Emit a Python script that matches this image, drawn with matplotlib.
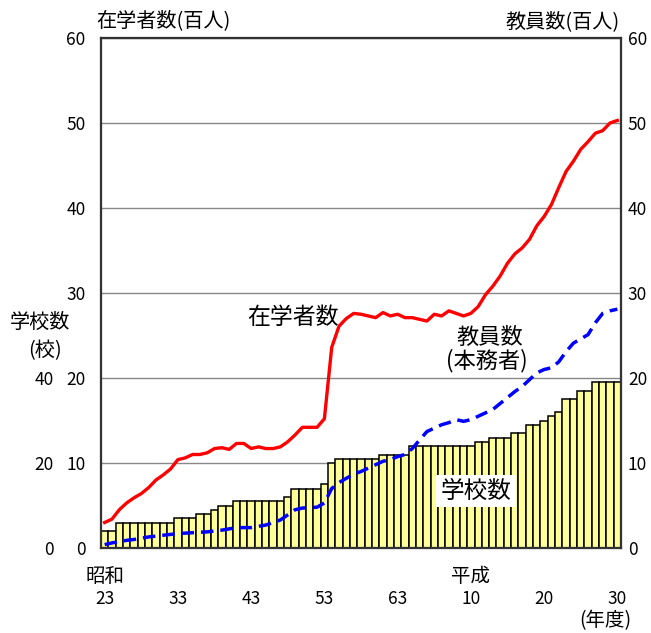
import matplotlib
matplotlib.use("Agg")
import matplotlib.pyplot as plt
from matplotlib.transforms import blended_transform_factory

plt.rcParams['font.family'] = ['Noto Sans CJK JP', 'DejaVu Sans']

years = list(range(1948, 2019))
schools = [4, 4] + [6] * 8 + [7] * 3 + [8] * 2 + [9] + [10] * 2 + [11] * 7 + [12] + [14] * 4 + [15] + [20] \
    + [21] * 6 + [22] * 4 + [24] * 9 + [25] * 2 + [26] * 3 + [27] * 2 + [29] * 2 + [30] + [31] + [32] \
    + [35] * 2 + [37] * 2 + [39] * 4
students = [3.0, 3.4, 4.5, 5.3, 5.9, 6.4, 7.1, 8.0, 8.6, 9.3,
            10.4, 10.6, 11.0, 11.0, 11.2, 11.7, 11.8, 11.6, 12.3, 12.3,
            11.7, 11.9, 11.7, 11.7, 11.9, 12.5, 13.3, 14.2, 14.2, 14.2,
            15.2, 23.6, 26.1, 27.0, 27.6, 27.5, 27.3, 27.1, 27.7, 27.3,
            27.5, 27.1, 27.1, 26.9, 26.7, 27.5, 27.3, 27.9, 27.6, 27.3,
            27.6, 28.4, 29.8, 30.8, 32.0, 33.5, 34.6, 35.3, 36.3, 37.9,
            39.0, 40.4, 42.4, 44.3, 45.5, 46.9, 47.8, 48.8, 49.1, 50.0,
            50.3]
teachers = [0.4, 0.6, 0.75, 0.9, 1.0, 1.15, 1.3, 1.4, 1.5, 1.6,
            1.7, 1.75, 1.8, 1.85, 1.9, 2.0, 2.1, 2.25, 2.4, 2.4,
            2.4, 2.55, 2.7, 3.0, 3.3, 3.9, 4.5, 4.7, 4.75, 4.8,
            5.3, 7.0, 7.7, 8.2, 8.7, 9.0, 9.4, 9.8, 10.2, 10.4,
            10.75, 11.0, 11.7, 12.7, 13.7, 14.1, 14.5, 14.75, 15.1, 14.9,
            15.1, 15.5, 15.9, 16.3, 17.0, 17.7, 18.4, 19.0, 19.8, 20.6,
            21.0, 21.2, 21.9, 23.1, 24.1, 24.6, 25.1, 26.5, 27.6, 27.9,
            28.1]
xtick_years = [1948, 1958, 1968, 1978, 1988, 1998, 2008, 2018]
xtick_labels = ['23', '33', '43', '53', '63', '10', '20', '30']
school_ticks = [0, 20, 40]
main_ticks = [0, 10, 20, 30, 40, 50, 60]

W, H = 651, 633
fig = plt.figure(figsize=(W / 100, H / 100), dpi=100)
ax = fig.add_axes([101 / W, 1 - 548 / H, 520 / W, 510 / H])

spine_c = '#333333'
# school axis (bars) 0-120 so that 40 schools == 20 on main scale
ax.bar(years, schools, width=1.0, color='#FFFF99', edgecolor='black', linewidth=1.1, zorder=2)
ax.set_ylim(0, 120)
ax.set_xlim(1947.5, 2018.5)
ax.set_yticks([v * 2 for v in main_ticks])
ax.set_yticklabels([str(v) if v in school_ticks else '' for v in [t * 2 for t in main_ticks]])
ax.grid(axis='y', color='#888888', linewidth=1.0, zorder=0)
ax.set_axisbelow(True)
ax.tick_params(axis='y', length=0, pad=34, labelsize=12.5)
ax.set_xticks(xtick_years)
ax.set_xticklabels(xtick_labels)
ax.tick_params(axis='x', length=0, pad=30, labelsize=12.5)
for s in ax.spines.values():
    s.set_color(spine_c)
    s.set_linewidth(1.5)

# students axis (left, inner labels)
ax2 = ax.twinx()
ax2.set_ylim(0, 60)
ax2.set_xlim(1947.5, 2018.5)
ax2.plot(years, students, color='#FF0000', linewidth=2.4, zorder=3)
ax2.set_yticks(main_ticks)
ax2.yaxis.tick_left()
ax2.tick_params(axis='y', length=0, labelsize=12.5, pad=11)

# teachers axis (right)
ax3 = ax.twinx()
ax3.set_ylim(0, 60)
ax3.set_xlim(1947.5, 2018.5)
ax3.plot(years, teachers, color='#0000FF', linewidth=2.5, dashes=(3.6, 2.0), zorder=3)
ax3.set_yticks(main_ticks)
ax3.tick_params(axis='y', length=0, labelsize=12.5, pad=5)

for a in (ax2, ax3):
    for s in a.spines.values():
        s.set_color(spine_c)
        s.set_linewidth(1.5)

# era labels
tr = blended_transform_factory(ax.transData, fig.transFigure)
ax.text(1948, 1 - 577 / H, '昭和', transform=tr, ha='center', va='center', fontsize=14)
ax.text(1998, 1 - 577 / H, '平成', transform=tr, ha='center', va='center', fontsize=14)

def ftext(x, y, s, **kw):
    fig.text(x / W, 1 - y / H, s, ha='center', va='center', **kw)

ftext(163, 22, '在学者数(百人)', fontsize=14.5)
ftext(563, 22, '教員数(百人)', fontsize=14.5)
ftext(40, 322, '学校数', fontsize=14.5)
ftext(45, 351, '(校)', fontsize=14.5)
ftext(605, 621, '(年度)', fontsize=14)
ftext(293, 318, '在学者数', fontsize=16.5)
ftext(490, 337, '教員数', fontsize=16)
ftext(487, 361, '(本務者)', fontsize=16)
fig.text(476 / W, 1 - 491 / H, '学校数', ha='center', va='center', fontsize=17,
         bbox=dict(facecolor='white', edgecolor='none', pad=3), zorder=5)

fig.savefig('out.png', dpi=100)
